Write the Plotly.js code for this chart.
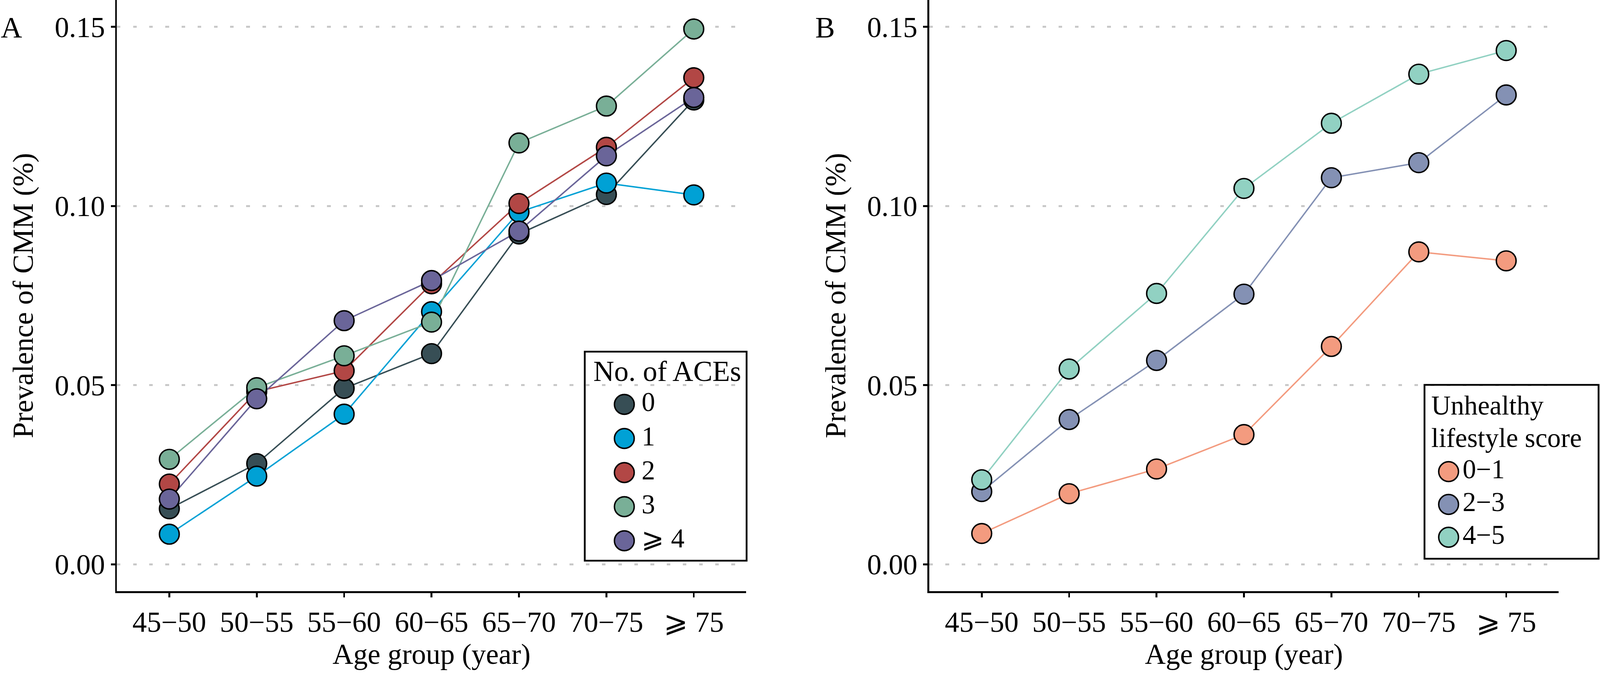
<!DOCTYPE html>
<html>
<head>
<meta charset="utf-8">
<script src="https://cdn.plot.ly/plotly-3.0.1.min.js"></script>
<style>
  html, body { margin: 0; padding: 0; background: #fff; overflow: hidden; }
</style>
</head>
<body>
<div id="chart"></div>
<script>
// reference figure size; all positions below are measured in these pixels
const W = 4449, H = 1725;

// x categories shared by both panels
const ageGroups = ["45−50", "50−55", "55−60", "60−65", "65−70", "70−75", "⩾ 75"];

// Panel A: prevalence by number of ACEs
const aceLabels = ["0", "1", "2", "3", "⩾ 4"];
const ace0 = [0.0155, 0.0281, 0.0491, 0.0588, 0.0922, 0.1032, 0.1296];
const ace1 = [0.0084, 0.0246, 0.0419, 0.0705, 0.0983, 0.1064, 0.1031];
const ace2 = [0.0224, 0.0482, 0.0540, 0.0783, 0.1007, 0.1164, 0.1358];
const ace3 = [0.0293, 0.0493, 0.0582, 0.0676, 0.1176, 0.1279, 0.1494];
const ace4 = [0.0182, 0.0462, 0.0680, 0.0792, 0.0930, 0.1140, 0.1303];
const aceColors = ["#374E55", "#00A1D5", "#B24745", "#79AF97", "#6A6599"];

// Panel B: prevalence by unhealthy lifestyle score
const lifeLabels = ["0−1", "2−3", "4−5"];
const life01 = [0.0086, 0.0197, 0.0266, 0.0362, 0.0608, 0.0872, 0.0847];
const life23 = [0.0203, 0.0404, 0.0569, 0.0754, 0.1079, 0.1121, 0.1310];
const life45 = [0.0236, 0.0545, 0.0756, 0.1049, 0.1231, 0.1368, 0.1434];
const lifeColors = ["#F39B7F", "#8491B4", "#91D1C2"];

const yTicks = [0, 0.05, 0.10, 0.15];

// the viewport we actually get may not be 4449x1725 css px: fill it
const vw = document.documentElement.clientWidth || window.innerWidth || W;
const vh = window.innerHeight || document.documentElement.clientHeight || H;
const sx = vw / W, sy = vh / H;
const k = Math.min(sx, sy);

const FONT = "Liberation Serif, 'Times New Roman', serif";
const FS = 80 * k;
const LFS = 75 * k;      // legend text, a hair smaller so rows don't collide
const MS = 55 * k;
const LW = 4 * k;
const AXW = 5 * k;

// reference pixel -> paper coords
const px = (x) => x / W;
const py = (y) => 1 - y / H;

function xAxis(x0, x1) {
    return {
        domain: [px(x0), px(x1)],
        type: "category",
        range: [-0.6, 6.6],
        showline: true, linecolor: "#000", linewidth: AXW,
        ticks: "outside", ticklen: 12 * k, tickwidth: AXW, tickcolor: "#000",
        showgrid: false, zeroline: false,
        tickfont: { family: FONT, size: FS, color: "#000" },
        title: { text: "Age group (year)", font: { family: FONT, size: FS, color: "#000" }, standoff: 2 * sy },
        automargin: false, fixedrange: true
    };
}

function yAxis(anchor) {
    return {
        domain: [py(1513), 1],
        anchor: anchor,
        range: [-0.0075, 0.1575],
        tickvals: yTicks, tickformat: ".2f",
        showline: true, linecolor: "#000", linewidth: AXW,
        ticks: "outside", ticklen: 12 * k, tickwidth: AXW, tickcolor: "#000",
        showgrid: true, gridcolor: "#c8c8c8", gridwidth: AXW,
        griddash: (10 * sx).toFixed(1) + "px," + (35 * sx).toFixed(1) + "px",
        zeroline: false,
        tickfont: { family: FONT, size: FS, color: "#000" },
        title: { text: "Prevalence of CMM (%)", font: { family: FONT, size: FS, color: "#000" }, standoff: 35 * sx },
        automargin: false, fixedrange: true
    };
}

// hidden axes in reference-pixel units used to lay out the boxed legends
function boxAxes(x0, y0, x1, y1) {
    return {
        x: { domain: [px(x0), px(x1)], range: [0, x1 - x0], visible: false, fixedrange: true },
        y: { domain: [py(y1), py(y0)], range: [y1 - y0, 0], visible: false, fixedrange: true }
    };
}

const traces = [];

function addPanel(series, colors, xa, ya) {
    // lines first, then points on top (as in the original)
    series.forEach((vals, i) => {
        traces.push({
            x: ageGroups, y: vals, xaxis: xa, yaxis: ya,
            type: "scatter", mode: "lines",
            line: { color: colors[i], width: LW },
            hoverinfo: "skip", showlegend: false
        });
    });
    series.forEach((vals, i) => {
        traces.push({
            x: ageGroups, y: vals, xaxis: xa, yaxis: ya,
            type: "scatter", mode: "markers",
            marker: { color: colors[i], size: MS, line: { color: "#000", width: LW } },
            showlegend: false
        });
    });
}

function addKey(labels, colors, xa, ya, keyX, textX, firstRow, rowH) {
    const rows = labels.map((_, i) => firstRow + i * rowH);
    traces.push({
        x: rows.map(() => keyX), y: rows, xaxis: xa, yaxis: ya,
        type: "scatter", mode: "markers",
        marker: { color: colors, size: MS, line: { color: "#000", width: LW } },
        hoverinfo: "skip", showlegend: false
    });
    traces.push({
        x: rows.map(() => textX), y: rows, xaxis: xa, yaxis: ya,
        type: "scatter", mode: "text", text: labels,
        textposition: "middle right",
        textfont: { family: FONT, size: LFS, color: "#000" },
        hoverinfo: "skip", showlegend: false
    });
}

addPanel([ace0, ace1, ace2, ace3, ace4], aceColors, "x", "y");
addPanel([life01, life23, life45], lifeColors, "x2", "y2");

const legA = boxAxes(1626, 900, 2076, 1435);
const legB = boxAxes(3961, 985, 4445, 1430);
addKey(aceLabels, aceColors, "x3", "y3", 110, 158, 135, 87.25);
addKey(lifeLabels, lifeColors, "x4", "y4", 67, 106, 222, 84);

const textFont = { family: FONT, size: FS, color: "#000" };
const legFont = { family: FONT, size: LFS, color: "#000" };
const panelFont = { family: FONT, size: 82 * k, color: "#000" };

const layout = {
    width: vw, height: vh,
    margin: { l: 0, r: 0, t: 0, b: 0 },
    paper_bgcolor: "#fff", plot_bgcolor: "rgba(0,0,0,0)",
    showlegend: false,
    font: textFont,
    xaxis: xAxis(325, 2075),
    yaxis: yAxis("x"),
    xaxis2: Object.assign(xAxis(2584, 4334), { anchor: "y2" }),
    yaxis2: yAxis("x2"),
    xaxis3: Object.assign(legA.x, { anchor: "y3" }),
    yaxis3: Object.assign(legA.y, { anchor: "x3" }),
    xaxis4: Object.assign(legB.x, { anchor: "y4" }),
    yaxis4: Object.assign(legB.y, { anchor: "x4" }),
    shapes: [
        { type: "rect", xref: "x3 domain", yref: "y3 domain", x0: 0, x1: 1, y0: 0, y1: 1,
          line: { color: "#000", width: AXW }, fillcolor: "rgba(255,255,255,0)" },
        { type: "rect", xref: "x4 domain", yref: "y4 domain", x0: 0, x1: 1, y0: 0, y1: 1,
          line: { color: "#000", width: AXW }, fillcolor: "rgba(255,255,255,0)" }
    ],
    annotations: [
        { text: "A", xref: "paper", yref: "paper", x: px(0), y: py(70), xanchor: "left", yanchor: "middle",
          showarrow: false, font: panelFont },
        { text: "B", xref: "paper", yref: "paper", x: px(2265), y: py(70), xanchor: "left", yanchor: "middle",
          showarrow: false, font: panelFont },
        { text: "No. of ACEs", xref: "x3", yref: "y3", x: 22, y: 50, xanchor: "left", yanchor: "middle",
          showarrow: false, font: textFont },
        { text: "Unhealthy", xref: "x4", yref: "y4", x: 17, y: 52, xanchor: "left", yanchor: "middle",
          showarrow: false, font: legFont },
        { text: "lifestyle score", xref: "x4", yref: "y4", x: 17, y: 135, xanchor: "left", yanchor: "middle",
          showarrow: false, font: legFont }
    ]
};

Plotly.newPlot("chart", traces, layout, { displayModeBar: false, staticPlot: true });
</script>
</body>
</html>
